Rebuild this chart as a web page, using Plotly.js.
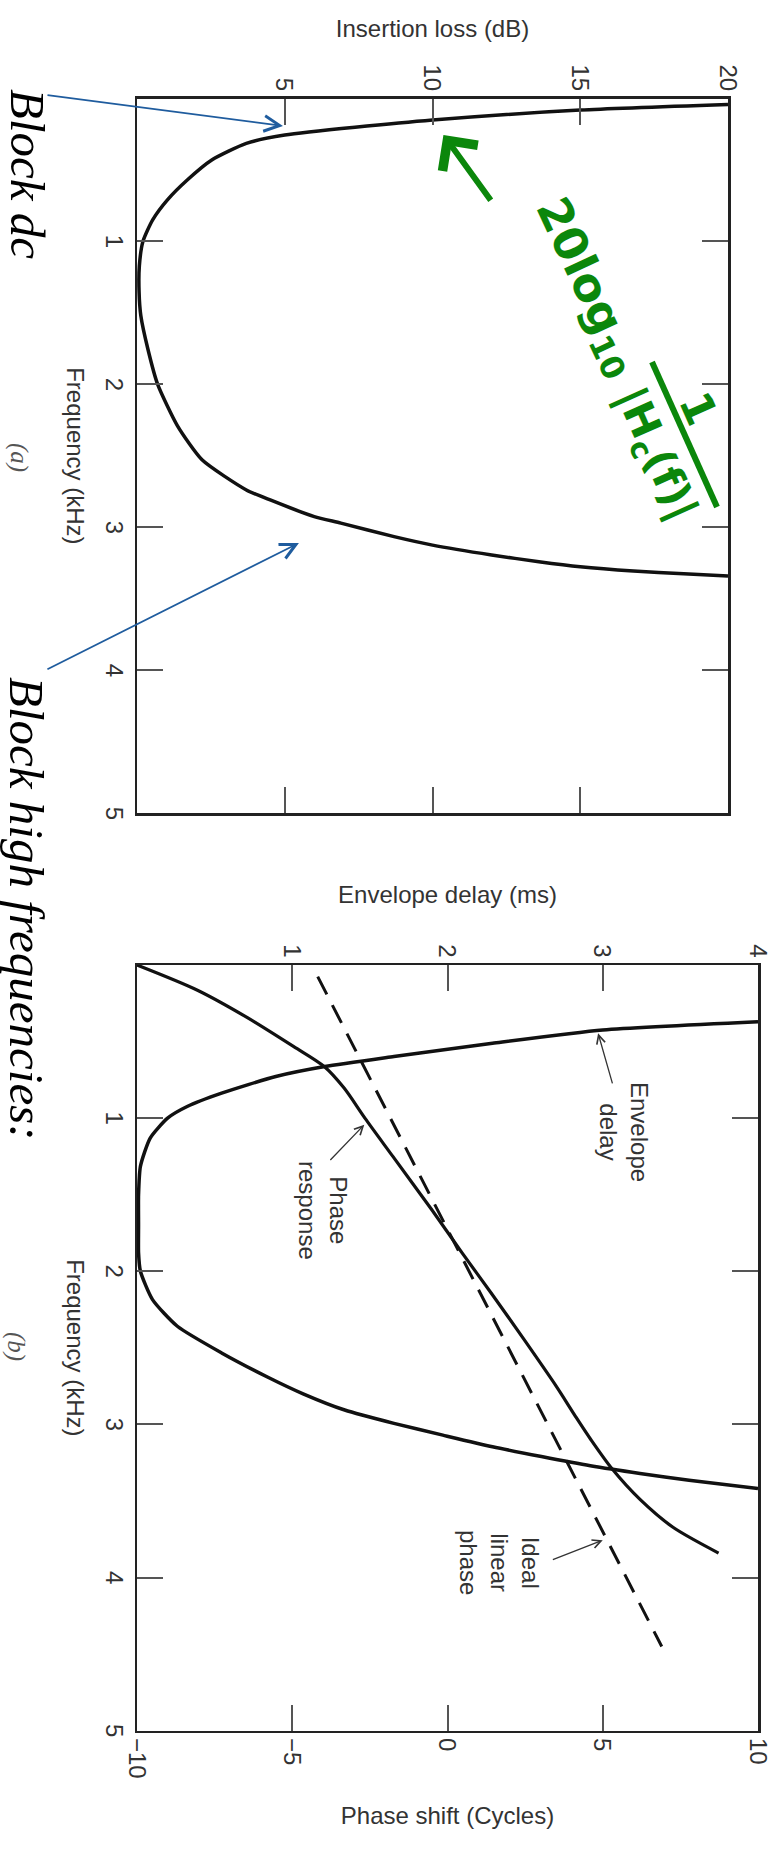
<!DOCTYPE html>
<html>
<head>
<meta charset="utf-8">
<script src="https://cdn.plot.ly/plotly-3.0.1.min.js"></script>
<style>
html,body{margin:0;padding:0;background:#fff;overflow:hidden;width:772px;height:1849px;}
#wrap{position:absolute;left:0;top:0;width:1849px;height:772px;transform-origin:0 0;transform:translateX(772px) rotate(90deg);}
</style>
</head>
<body>
<div id="wrap"></div>
<script>
// ---------- data ----------
// (a) insertion loss
const lossFreq = [0.042, 0.081, 0.151, 0.256, 0.314, 0.43, 0.57, 0.709, 0.849, 1.0, 1.17, 1.35, 1.52, 1.754, 2.0, 2.29, 2.527, 2.738, 2.81, 2.925, 2.97, 3.065, 3.124, 3.193, 3.24, 3.275, 3.305, 3.325, 3.34];
const lossDb   = [20, 15, 10, 5, 3.7, 2.53, 1.7, 1.03, 0.53, 0.2, 0.08, 0.07, 0.13, 0.37, 0.7, 1.37, 2.2, 3.7, 4.53, 6.0, 6.9, 8.7, 10, 12, 13.6, 15, 16.8, 18.5, 20];
// (b) envelope delay
const delayFreq = [0.37, 0.424, 0.511, 0.598, 0.663, 0.728, 0.837, 0.924, 1.0, 1.13, 1.315, 1.5, 1.7, 1.88, 2.0, 2.185, 2.359, 2.533, 2.69, 2.80, 2.906, 2.993, 3.07, 3.146, 3.21, 3.27, 3.32, 3.364, 3.418];
const delayMs   = [4.0, 3.0, 2.29, 1.655, 1.21, 0.894, 0.545, 0.323, 0.197, 0.085, 0.022, 0.01, 0.01, 0.01, 0.022, 0.10, 0.26, 0.545, 0.84, 1.07, 1.338, 1.655, 1.97, 2.29, 2.605, 2.92, 3.24, 3.556, 4.0];
// (b) phase response
const phaseFreq   = [0, 0.163, 0.337, 0.533, 0.663, 0.804, 1.0, 1.25, 1.6, 1.88, 2.14, 2.45, 2.75, 2.95, 3.10, 3.29, 3.49, 3.67, 3.84];
const phaseCycles = [-10, -8.07, -6.5, -4.95, -3.97, -3.33, -2.66, -1.76, -0.5, 0.47, 1.40, 2.48, 3.5, 4.13, 4.62, 5.3, 6.2, 7.25, 8.73];
// (b) ideal linear phase
const idealFreq   = [0.076, 4.45];
const idealCycles = [-4.18, 6.9];
// ticks
const freqTicks  = [1, 2, 3, 4, 5];
const lossTicks  = [5, 10, 15, 20];
const delayTicks = [1, 2, 3, 4];
const phaseTicks = [-10, -5, 0, 5, 10];

// ---------- layout helpers (unrotated frame 1849 x 772) ----------
const W = 1849, H = 772;
const px = X => X / W;
const py = Y => 1 - Y / H;
const SANS = 'Liberation Sans, Arial, Helvetica, sans-serif';
const SERIF = 'Liberation Serif, Times New Roman, serif';
const GREEN = '#0b870b';
const BLUE = '#1f5c9e';

const axisBase = {
  ticks: 'inside', ticklen: 26, tickwidth: 2, tickcolor: '#555',
  showline: true, linewidth: 2.5, linecolor: '#222',
  showgrid: false, zeroline: false, fixedrange: true,
  tickfont: {family: SANS, size: 24, color: '#333'}
};
const titleFont = {family: SANS, size: 24, color: '#333'};

const line = {color: '#111', width: 3.5, shape: 'spline', smoothing: 0.6};
const traces = [
  {x: lossFreq, y: lossDb, xaxis: 'x', yaxis: 'y', mode: 'lines', line: line, hoverinfo: 'skip'},
  {x: delayFreq, y: delayMs, xaxis: 'x2', yaxis: 'y2', mode: 'lines', line: line, hoverinfo: 'skip'},
  {x: phaseFreq, y: phaseCycles, xaxis: 'x2', yaxis: 'y3', mode: 'lines', line: {color: '#111', width: 3.2, shape: 'spline', smoothing: 0.8}, hoverinfo: 'skip'},
  {x: idealFreq, y: idealCycles, xaxis: 'x2', yaxis: 'y3', mode: 'lines', line: {color: '#111', width: 3, dash: '20px,12px'}, hoverinfo: 'skip'}
];

const grayArrow = {showarrow: true, text: '', arrowcolor: '#333', arrowwidth: 1.3, arrowhead: 5, arrowsize: 1.3, standoff: 0};
const labelFont = {family: SANS, size: 24, color: '#333'};
const paperText = (X, Y, text, font, extra) => Object.assign({xref: 'paper', yref: 'paper', x: px(X), y: py(Y), text: text, showarrow: false, font: font, xanchor: 'center', yanchor: 'middle'}, extra || {});
const greenFont = size => ({family: 'DejaVu Sans, sans-serif', size: size, color: GREEN, weight: 'bold'});

const annotations = [
  // panel (b) labels
  {xref: 'x2', yref: 'y2', x: 1.09, y: 3.14, text: 'Envelope<br>delay', showarrow: false, font: labelFont, align: 'center', xanchor: 'center', yanchor: 'middle'},
  Object.assign({xref: 'x2', yref: 'y2', axref: 'x2', ayref: 'y2', x: 0.446, y: 2.97, ax: 0.783, ay: 3.065}, grayArrow),
  {xref: 'x2', yref: 'y2', x: 1.6, y: 1.195, text: 'Phase<br>response', showarrow: false, font: labelFont, align: 'center', xanchor: 'center', yanchor: 'middle'},
  Object.assign({xref: 'x2', yref: 'y2', axref: 'x2', ayref: 'y2', x: 1.043, y: 1.464, ax: 1.283, ay: 1.236}, grayArrow),
  {xref: 'x2', yref: 'y2', x: 3.9, y: 2.336, text: 'Ideal<br>linear<br>phase', showarrow: false, font: labelFont, align: 'center', xanchor: 'center', yanchor: 'middle'},
  Object.assign({xref: 'x2', yref: 'y2', axref: 'x2', ayref: 'y2', x: 3.756, y: 3.0, ax: 3.887, ay: 2.669}, grayArrow),
  // (a) / (b)
  paperText(457.5, 752.5, '(a)', {family: SERIF, size: 25, color: '#555', style: 'italic'}),
  paperText(1346.5, 756, '(b)', {family: SERIF, size: 25, color: '#555', style: 'italic'}),
  // outer notes
  paperText(87, 744, 'Block dc', {family: SERIF, size: 49, color: '#000', style: 'italic'}, {xanchor: 'left'}),
  paperText(675, 745, 'Block high frequencies:', {family: SERIF, size: 49, color: '#000', style: 'italic'}, {xanchor: 'left'}),
  {xref: 'x', yref: 'y', x: 0.192, y: 4.94, ax: -31, ay: 237, text: '', showarrow: true, arrowcolor: BLUE, arrowwidth: 1.8, arrowhead: 5, arrowsize: 1.7, standoff: 0},
  {xref: 'x', yref: 'y', x: 3.109, y: 5.48, ax: 127, ay: 253, text: '', showarrow: true, arrowcolor: BLUE, arrowwidth: 1.8, arrowhead: 5, arrowsize: 1.7, standoff: 0},
  // green handwritten note
  {xref: 'x', yref: 'y', x: 0.255, y: 10.37, ax: 66.7, ay: -48.4, text: '', showarrow: true, arrowcolor: GREEN, arrowwidth: 6, arrowhead: 4, arrowsize: 1.4, standoff: 0},
  paperText(287, 186, '20log<sub>10</sub>', greenFont(46), {textangle: -25}),
  paperText(408, 73, '1', greenFont(44), {textangle: -24}),
  paperText(455, 118, '|H<sub>c</sub>(f)|', greenFont(42), {textangle: -24})
];

const shapes = [
  {type: 'line', xref: 'paper', yref: 'paper', x0: px(362), y0: py(120), x1: px(507), y1: py(55), line: {color: GREEN, width: 6}}
];

const layout = {
  width: W, height: H,
  margin: {l: 0, r: 0, t: 0, b: 0, pad: 0},
  paper_bgcolor: '#fff', plot_bgcolor: '#fff',
  showlegend: false,
  xaxis: Object.assign({}, axisBase, {domain: [px(98.5), px(813.3)], range: [0, 5], tickvals: freqTicks, anchor: 'y', mirror: 'ticks',
    title: {text: 'Frequency (kHz)', font: titleFont, standoff: 18}}),
  yaxis: Object.assign({}, axisBase, {domain: [137 / H, 728 / H], range: [0, 20], tickvals: lossTicks, anchor: 'x', mirror: 'ticks',
    title: {text: 'Insertion loss (dB)', font: titleFont, standoff: 20}}),
  xaxis2: Object.assign({}, axisBase, {domain: [px(965), px(1730.7)], range: [0, 5], tickvals: freqTicks, anchor: 'y2', mirror: 'ticks',
    title: {text: 'Frequency (kHz)', font: titleFont, standoff: 18}}),
  yaxis2: Object.assign({}, axisBase, {domain: [137 / H, 758 / H], range: [0, 4], tickvals: delayTicks, anchor: 'x2', side: 'left',
    title: {text: 'Envelope delay (ms)', font: titleFont, standoff: 34}}),
  yaxis3: Object.assign({}, axisBase, {range: [-10, 10], tickvals: phaseTicks, anchor: 'x2', side: 'right', overlaying: 'y2',
    title: {text: 'Phase shift (Cycles)', font: titleFont, standoff: 30}}),
  annotations: annotations,
  shapes: shapes
};

Plotly.newPlot('wrap', traces, layout, {displayModeBar: false, staticPlot: true, responsive: false});
</script>
</body>
</html>
